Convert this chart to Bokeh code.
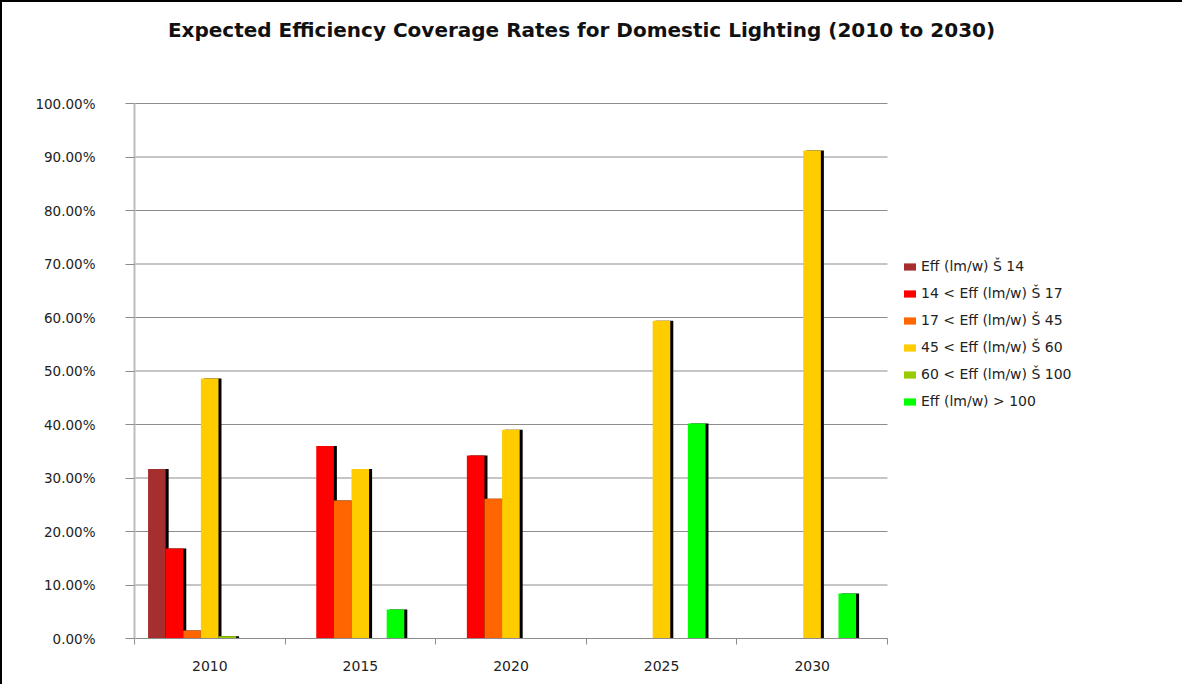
from bokeh.plotting import figure
from bokeh.models import (Range1d, FixedTicker, PrintfTickFormatter, Legend,
                          LegendItem, ColumnDataSource, Label)
from bokeh.transform import dodge
from bokeh.embed import file_html
from bokeh.resources import INLINE

# ---------------- data ----------------
title_text = "Expected Efficiency Coverage Rates for Domestic Lighting (2010 to 2030)"
years = ["2010", "2015", "2020", "2025", "2030"]

series_names = [
    "Eff (lm/w) Š 14",
    "14 < Eff (lm/w) Š 17",
    "17 < Eff (lm/w) Š 45",
    "45 < Eff (lm/w) Š 60",
    "60 < Eff (lm/w) Š 100",
    "Eff (lm/w) > 100",
]
series_colors = ["#A52F2F", "#FF0000", "#FF6600", "#FFCC00", "#99CC00", "#00FF00"]

eff_le_14 = [31.7, 0.0, 0.0, 0.0, 0.0]
eff_14_17 = [16.8, 36.0, 34.2, 0.0, 0.0]
eff_17_45 = [1.5, 25.8, 26.1, 0.0, 0.0]
eff_45_60 = [48.6, 31.7, 39.0, 59.4, 91.2]
eff_60_100 = [0.4, 0.0, 0.0, 0.0, 0.0]
eff_gt_100 = [0.0, 5.4, 0.0, 40.2, 8.4]

series_values = [eff_le_14, eff_14_17, eff_17_45, eff_45_60, eff_60_100, eff_gt_100]

y_ticks = [0, 10, 20, 30, 40, 50, 60, 70, 80, 90, 100]

# ---------------- layout constants ----------------
W, H = 1182, 684
LEFT, BOTTOM = 132, 48
PLOT_W = 753           # pixel width of the five category groups
PLOT_H = 535           # pixel height of 0..100 %
GROUP_PAD = 0.090      # gap before first bar in a group (fraction of group)
BAR_W = 0.1169         # bar width (fraction of group)
SHADOW_DX = 0.02       # shadow offset to the right

n = len(years)
frame_w = W - LEFT
frame_h = H - BOTTOM
x_end = n * frame_w / PLOT_W
y_end = 100.0 * frame_h / PLOT_H

data = {"x": list(range(n)), "year": years}
for j, vals in enumerate(series_values):
    data[f"s{j}"] = vals
src = ColumnDataSource(data)

p = figure(width=W, height=H,
           x_range=Range1d(0, x_end), y_range=Range1d(0, y_end),
           output_backend="svg", toolbar_location=None,
           min_border_left=LEFT, min_border_right=0, min_border_bottom=BOTTOM,
           min_border_top=0)

p.outline_line_color = None
p.background_fill_color = "white"
p.border_fill_color = "white"
p.styles = {"border-left": "2px solid black", "border-top": "2px solid black"}

# horizontal gridlines, limited to the category area
p.segment(x0=0, x1=n, y0=y_ticks, y1=y_ticks, line_color="#8C8C8C", line_width=1)

renderers = []
for j, name in enumerate(series_names):
    off = GROUP_PAD + BAR_W * (j + 0.5)
    p.vbar(x=dodge("x", off + SHADOW_DX, range=p.x_range), top=f"s{j}", width=BAR_W,
           source=src, fill_color="black", line_color=None)
    r = p.vbar(x=dodge("x", off, range=p.x_range), top=f"s{j}", width=BAR_W,
               source=src, fill_color=series_colors[j], line_color=None)
    renderers.append(r)

# title (inside the extended frame, above the 100 % line)
title_y = y_end - 27 * y_end / frame_h
p.add_layout(Label(x=(579 - LEFT) * n / PLOT_W, y=title_y, text=title_text,
                   text_align="center", text_baseline="middle",
                   text_font="DejaVu Sans", text_font_style="bold",
                   text_font_size="20px", text_color="#111111"))

# axes
p.xgrid.visible = False
p.ygrid.visible = False

yax = p.yaxis[0]
yax.ticker = FixedTicker(ticks=y_ticks)
yax.bounds = (0, 100)
yax.formatter = PrintfTickFormatter(format="%.2f%%")
yax.axis_line_color = "#BDBDBD"
yax.axis_line_width = 2
yax.major_tick_line_color = "#8C8C8C"
yax.major_tick_out = 9
yax.major_tick_in = 0
yax.minor_tick_line_color = None
yax.major_label_standoff = 30
yax.major_label_text_font = "DejaVu Sans"
yax.major_label_text_font_size = "13.5px"
yax.major_label_text_color = "#222222"

xax = p.xaxis[0]
centers = [i + 0.5 for i in range(n)]
xax.ticker = FixedTicker(ticks=centers, minor_ticks=list(range(n + 1)))
xax.bounds = (0, n)
xax.major_label_overrides = {c: y for c, y in zip(centers, years)}
xax.axis_line_color = "#8C8C8C"
xax.axis_line_width = 1
xax.major_tick_line_color = None
xax.major_tick_out = 0
xax.major_tick_in = 0
xax.minor_tick_line_color = "#8C8C8C"
xax.minor_tick_out = 6
xax.minor_tick_in = 0
xax.major_label_standoff = 16
xax.major_label_text_font = "DejaVu Sans"
xax.major_label_text_font_size = "14px"
xax.major_label_text_color = "#222222"

legend = Legend(items=[LegendItem(label=nm, renderers=[r]) for nm, r in zip(series_names, renderers)],
                location=(PLOT_W + 15, 227))
legend.label_text_font = "DejaVu Sans"
legend.label_text_font_size = "14px"
legend.label_text_color = "#222222"
legend.glyph_width = 15
legend.glyph_height = 9
legend.label_height = 20
legend.spacing = 7
legend.padding = 0
legend.margin = 0
legend.label_standoff = 4
legend.border_line_color = None
legend.background_fill_alpha = 0
p.add_layout(legend)

open("out.html", "w").write(file_html(p, INLINE))
